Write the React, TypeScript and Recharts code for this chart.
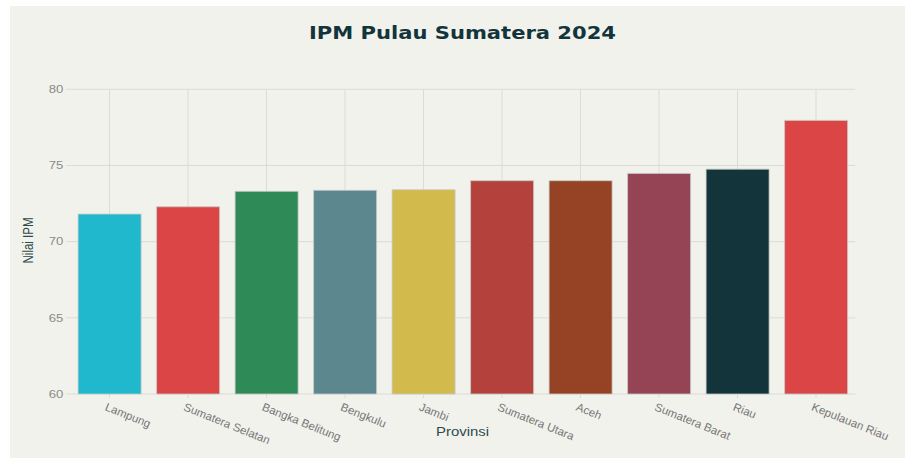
import React from 'react';
import { BarChart, Bar, XAxis, YAxis, CartesianGrid, Cell } from 'recharts';

const provinces = [
  'Lampung',
  'Sumatera Selatan',
  'Bangka Belitung',
  'Bengkulu',
  'Jambi',
  'Sumatera Utara',
  'Aceh',
  'Sumatera Barat',
  'Riau',
  'Kepulauan Riau',
];
const ipmValues = [71.81, 72.29, 73.3, 73.37, 73.41, 74.0, 74.0, 74.48, 74.76, 77.96];
const barColors = [
  '#1FB8CD',
  '#DB4545',
  '#2E8B57',
  '#5D878F',
  '#D2BA4C',
  '#B4413C',
  '#964325',
  '#944454',
  '#13343B',
  '#DB4545',
];
const yTicks = [60, 65, 70, 75, 80];
const titleText = 'IPM Pulau Sumatera 2024';
const xTitle = 'Provinsi';
const yTitle = 'Nilai IPM';

const data = provinces.map((p, i) => ({ provinsi: p, ipm: ipmValues[i] }));

const BG = '#F2F2EC';
const GRID = '#DCDCD6';

const XTick = (props: any) => {
  const { x, y, payload } = props;
  return (
    <g transform={`translate(${x - 2},${y})`}>
      <text
        x={0}
        y={0}
        dy={8.5}
        transform="rotate(22)"
        textAnchor="start"
        fill="#777777"
        fontSize={11.5}
        fontFamily="'Liberation Sans', Arial, sans-serif"
      >
        {payload.value}
      </text>
    </g>
  );
};

const YTick = (props: any) => {
  const { x, y, payload } = props;
  return (
    <g transform={`translate(${x},${y}) scale(1.25,1)`}>
      <text
        x={0}
        y={0}
        dy={3.8}
        textAnchor="end"
        fill="#8A8A8A"
        fontSize={10.5}
        fontFamily="'Liberation Sans', Arial, sans-serif"
      >
        {payload.value}
      </text>
    </g>
  );
};

const verticalGen = ({ offset }: any) =>
  provinces.map((_, i) => offset.left + (offset.width * (i + 0.5)) / provinces.length);

export default function App() {
  return (
    <div style={{ position: 'absolute', left: 0, top: 0, width: 905, height: 459, background: '#ffffff' }}>
      <div style={{ position: 'absolute', left: 10, top: 6, width: 895, height: 452, background: BG }} />
      <div style={{ position: 'absolute', left: 0, top: 0 }}>
        <BarChart
          width={905}
          height={459}
          data={data}
          margin={{ top: 89.3, right: 49.75, bottom: 0, left: 0 }}
          barCategoryGap="10%"
        >
          <CartesianGrid stroke={GRID} strokeWidth={1} vertical={false} />
          <CartesianGrid stroke={GRID} strokeWidth={1} horizontal={false} verticalCoordinatesGenerator={verticalGen} />
          <XAxis
            dataKey="provinsi"
            height={65}
            interval={0}
            axisLine={false}
            tickLine={{ stroke: GRID }}
            tickSize={4}
            tickMargin={4}
            tick={<XTick />}
          />
          <YAxis
            width={70.25}
            domain={[60, 80]}
            ticks={yTicks}
            axisLine={false}
            tickLine={{ stroke: GRID }}
            tickSize={4}
            tickMargin={3}
            tick={<YTick />}
          />
          <Bar dataKey="ipm" isAnimationActive={false} stroke="#C8C8C8" strokeWidth={0.8}>
            {data.map((d, i) => (
              <Cell key={d.provinsi} fill={barColors[i]} />
            ))}
          </Bar>
        </BarChart>
      </div>
      <svg
        width={905}
        height={459}
        style={{ position: 'absolute', left: 0, top: 0, pointerEvents: 'none' }}
      >
        <text
          x={462.5}
          y={38.8}
          textAnchor="middle"
          fill="#13343B"
          fontSize={17}
          fontWeight="bold"
          fontFamily="'DejaVu Sans', Verdana, sans-serif"
          textLength={307}
          lengthAdjust="spacingAndGlyphs"
        >
          {titleText}
        </text>
        <text
          x={462.5}
          y={436}
          textAnchor="middle"
          fill="#2F4A4F"
          fontSize={12}
          fontFamily="'Liberation Sans', Arial, sans-serif"
          textLength={53}
          lengthAdjust="spacingAndGlyphs"
        >
          {xTitle}
        </text>
        <g transform="translate(33.3,240.5) scale(1.25,1) rotate(-90)">
          <text
            x={0}
            y={0}
            textAnchor="middle"
            fill="#2F4A4F"
            fontSize={11.5}
            fontFamily="'Liberation Sans', Arial, sans-serif"
          >
            {yTitle}
          </text>
        </g>
      </svg>
    </div>
  );
}
